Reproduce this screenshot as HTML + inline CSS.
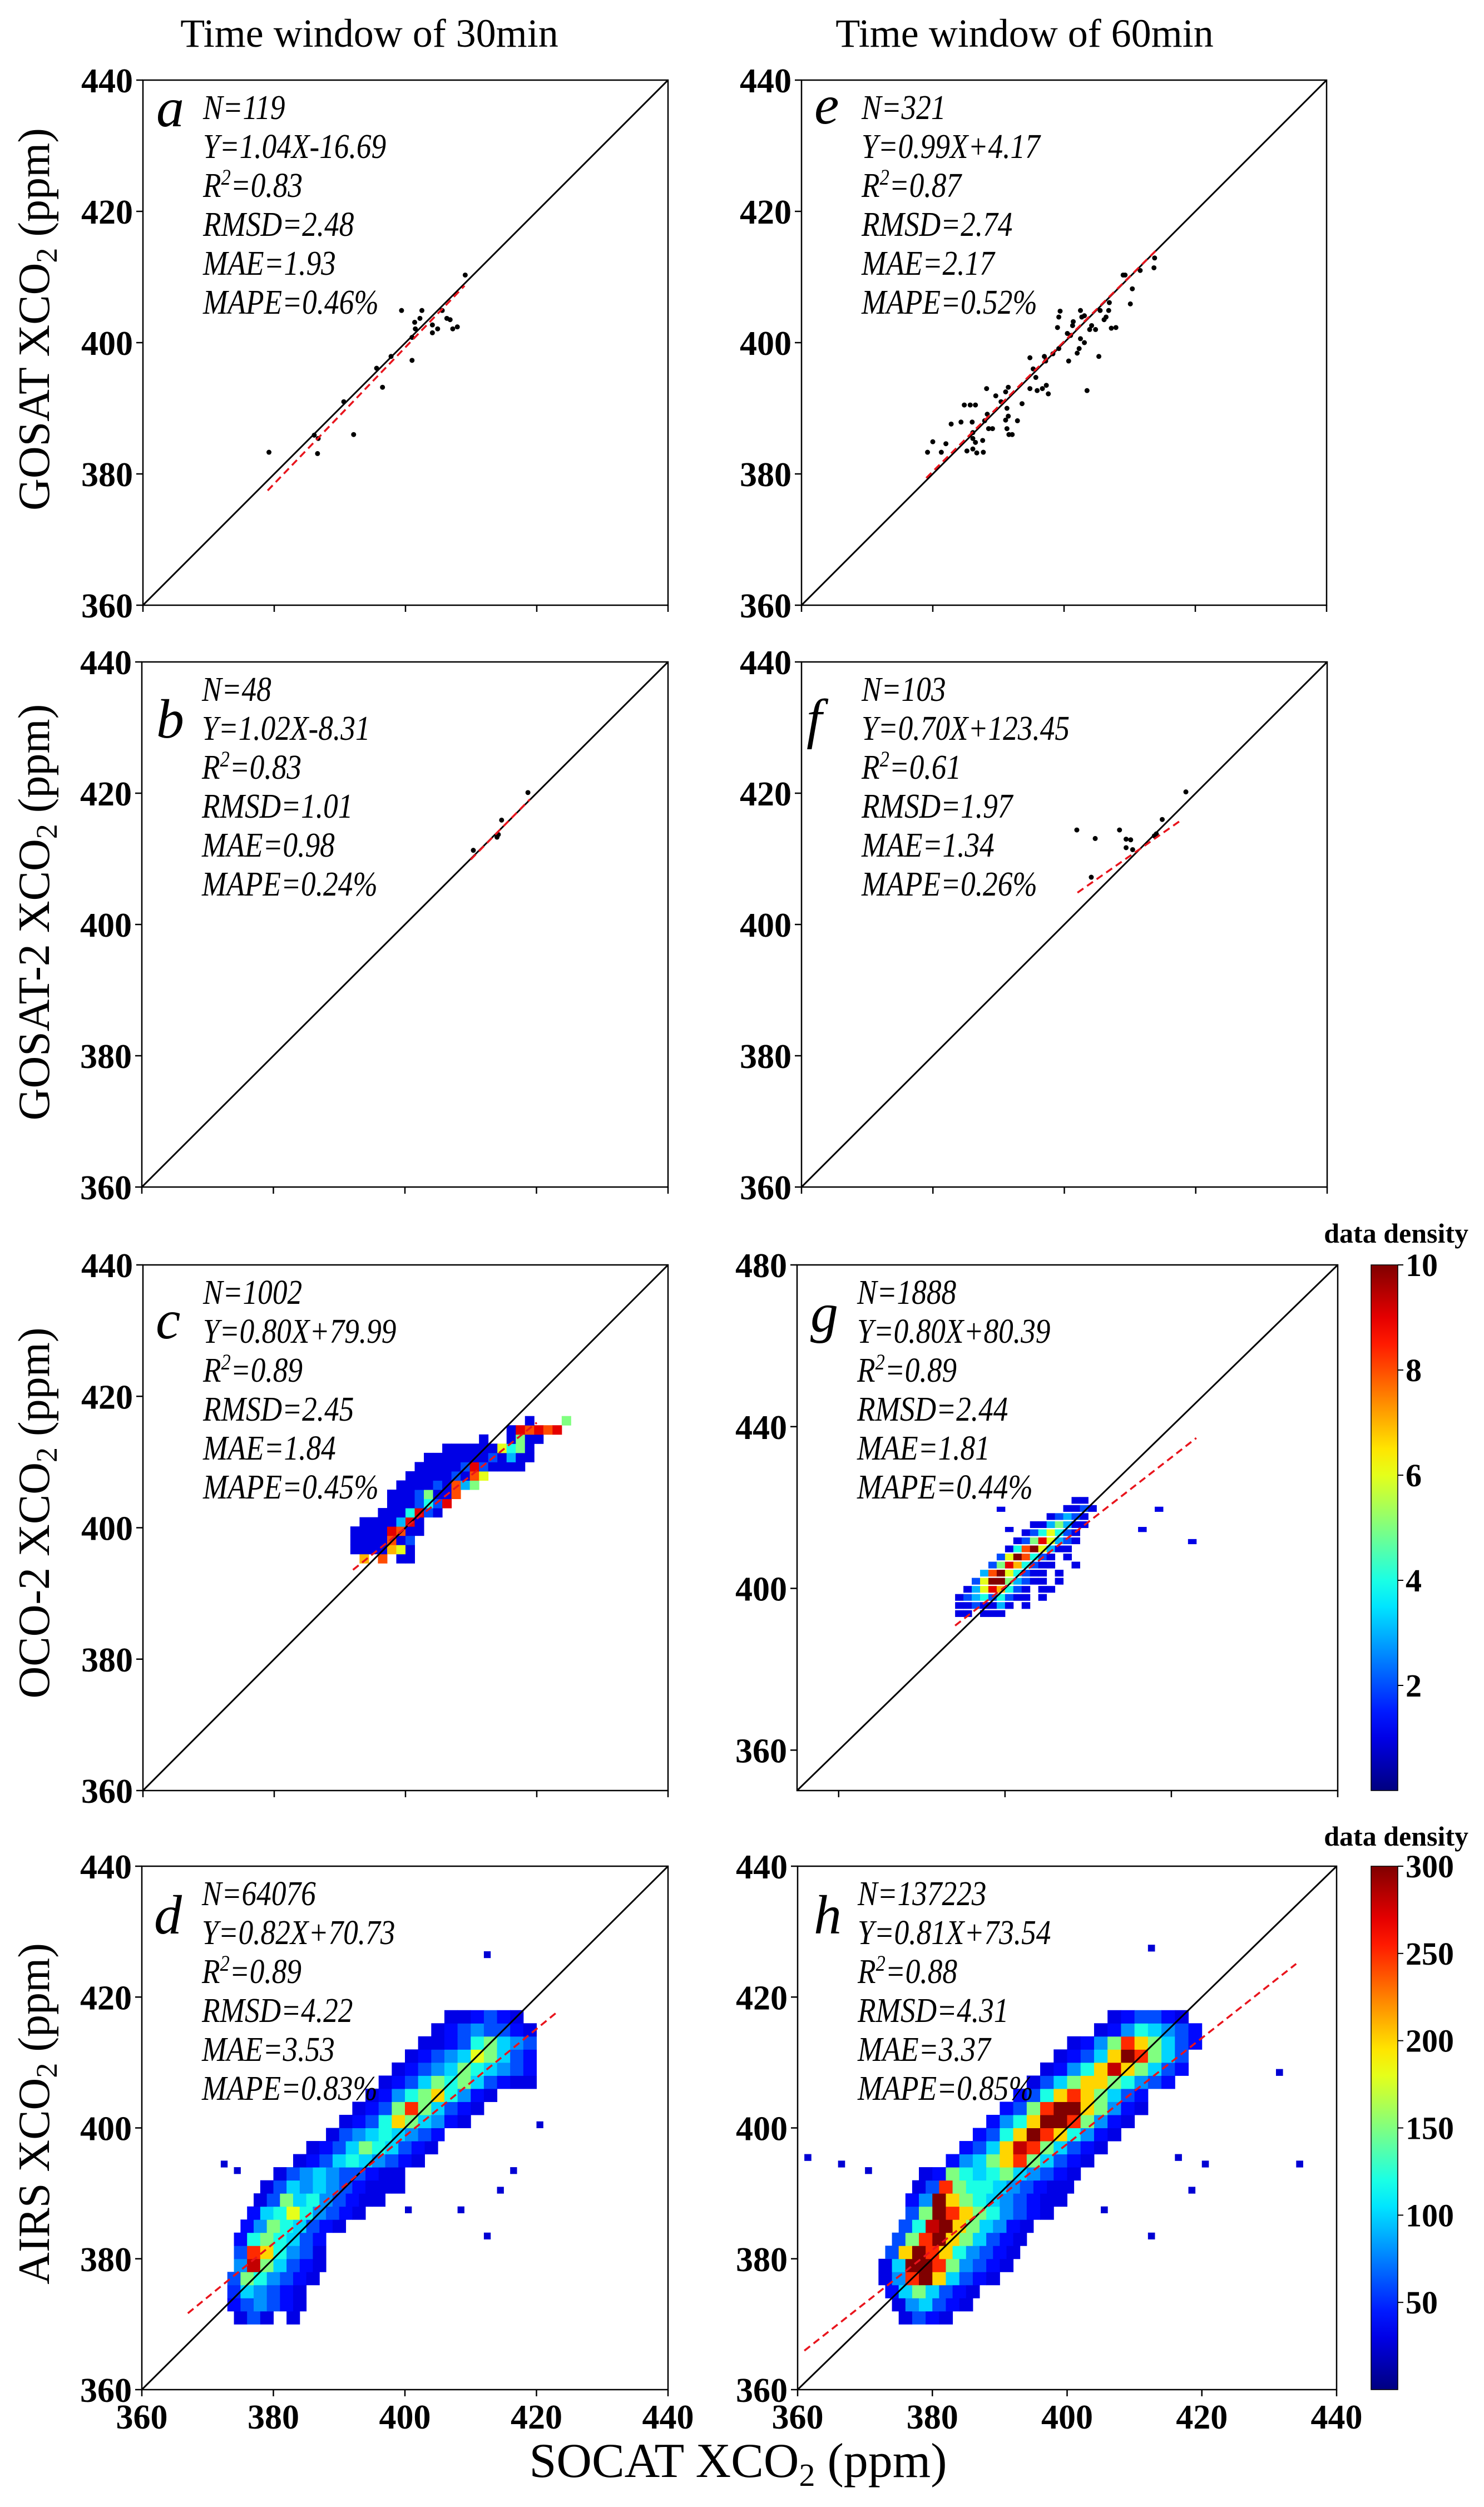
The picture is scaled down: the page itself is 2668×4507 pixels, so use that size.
<!DOCTYPE html>
<html><head><meta charset="utf-8"><title>XCO2 comparison</title>
<style>
html,body{margin:0;padding:0;background:#fff;}
svg{display:block;}
text{font-family:"Liberation Serif","DejaVu Serif",serif;}
</style></head>
<body>
<svg id="fig" xmlns="http://www.w3.org/2000/svg" width="2668" height="4507" viewBox="0 0 2668 4507"></svg>
<script>
// ---------- DATA ----------
const scatterA = [[379.2,383.3],[386.1,385.9],[386.7,385.4],[386.6,383.1],[390.6,391.0],[392.1,386.0],[395.6,396.1],[396.5,393.2],[397.8,397.9],[399.4,404.9],[401.0,397.3],[401.0,400.8],[401.4,403.1],[401.5,402.1],[402.2,403.7],[402.5,404.9],[404.1,401.5],[404.1,402.7],[404.9,402.1],[405.6,404.9],[406.3,403.7],[406.8,403.5],[407.2,402.1],[407.9,402.4],[409.1,410.3]];
const scatterE = [[379.2,383.3],[380.0,384.9],[381.3,383.3],[382.0,384.6],[382.8,387.6],[384.3,387.9],[384.8,390.5],[385.7,390.5],[386.5,390.5],[386.0,387.9],[386.1,386.3],[386.1,385.4],[386.5,384.8],[385.2,383.5],[386.1,383.8],[386.7,383.2],[387.7,383.3],[387.6,385.1],[387.9,388.1],[388.3,389.1],[388.5,386.9],[389.1,386.9],[388.2,393.0],[389.6,391.9],[390.4,391.0],[391.1,392.5],[391.5,393.2],[391.3,390.0],[391.5,388.8],[391.1,388.2],[391.3,386.9],[391.6,386.0],[392.1,386.0],[392.9,388.1],[393.6,390.7],[394.8,397.7],[395.3,396.0],[395.7,394.7],[394.8,393.0],[395.9,392.7],[396.7,393.0],[397.3,393.5],[397.6,392.2],[397.0,397.9],[397.2,397.2],[398.3,398.3],[399.0,402.3],[399.2,403.9],[399.4,404.8],[399.2,399.1],[400.5,401.4],[400.7,397.2],[401.0,401.1],[401.3,402.6],[401.4,403.2],[402.0,398.4],[402.3,399.1],[402.5,404.9],[402.7,403.9],[402.5,400.6],[403.1,404.1],[403.1,400.0],[403.5,392.7],[403.9,402.0],[404.2,402.6],[404.8,402.0],[405.3,397.9],[405.5,404.9],[406.1,403.5],[406.4,403.9],[406.8,404.9],[406.9,406.1],[407.2,402.2],[407.9,402.3],[409.0,410.3],[409.3,410.3],[410.1,405.9],[410.4,408.2],[411.6,411.0],[413.8,412.9],[413.7,411.4]];
const scatterB = [[410.4,411.3],[414.0,413.3],[414.7,415.9],[418.7,420.1],[414.2,413.7]];
const scatterF = [[401.9,414.4],[404.7,413.1],[408.4,414.4],[409.4,413.0],[410.1,412.9],[409.4,411.7],[410.4,411.4],[404.1,407.2],[413.7,413.5],[414.9,416.0],[418.5,420.2],[414.0,413.8]];

const heatC = [
 [0,7,0,8,0,1,1,0],
 [1,1,1,1,7,6,1,0],
 [1,1,1,1,8,1,2,0],
 [1,1,1,1,9,8,1,1,0],
 [0,1,1,1,1,3,9,1,0],
 [0,0,0,1,1,1,4,9,2,1],
 [0,0,0,0,1,1,1,2,4,2,9,0],
 [0,0,0,0,1,1,1,2,5,1,1,8],
 [0,0,0,0,0,1,1,1,1,2,1,8,3,5,0],
 [0,0,0,0,0,0,1,1,1,1,1,2,1,8,6],
 [0,0,0,0,0,0,0,1,1,1,1,1,2,9,2,1,1,1,1],
 [0,0,0,0,0,0,0,0,1,1,1,1,1,1,1,2,1,3,1,1],
 [0,0,0,0,0,0,0,0,0,0,1,1,1,1,1,1,6,4,5,1],
 [0,0,0,0,0,0,0,0,0,0,0,0,0,0,1,0,0,1,5,1,1],
 [0,0,0,0,0,0,0,0,0,0,0,0,0,0,0,0,0,1,9,8,9,8,9],
 [0,0,0,0,0,0,0,0,0,0,0,0,0,0,0,0,0,0,0,1,0,0,0,5]
];
const heatC_x0 = 391.6, heatC_y0 = 394.6, heatC_bin = 1.4;

// g: rows [yStart, xStart, densities...] with 2 ppm bins
const heatG = [
 [393,388,[1,1,0,1,1,1]],
 [395,388,[1,1,2,1,1,3,1,0,1]],
 [397,388,[1,2,3,4,2,4,2,1,1,0,1]],
 [399,390,[1,3,6,9,7,4,2,1,0,1,1]],
 [401,392,[2,6,10,10,5,3,2,1,1,0,1]],
 [403,394,[3,8,10,6,4,2,1,1,0,1]],
 [405,396,[2,5,9,7,4,2,1,1,0,0,1]],
 [407,398,[2,6,10,8,4,2,1,0,1]],
 [409,400,[1,4,8,10,6,3,1,1]],
 [411,402,[1,2,5,9,6,3,2,1]],
 [413,404,[1,2,4,6,4,2,1]],
 [415,406,[1,1,3,5,3,1,1]],
 [417,410,[1,2,3,2,1]],
 [419,414,[1,1,2,1]],
 [421,416,[1,1]]
];
const outG = [[444,411],[436,419],[432,414],[398,419],[400,414]];

const heatD = [
 [370,374,[30,60,30,0,30]],
 [372,373,[40,60,80,60,40,30]],
 [374,373,[50,100,80,60,40,30]],
 [376,373,[60,150,120,80,60,40,30]],
 [378,374,[80,280,150,100,60,40,30]],
 [380,374,[60,250,200,120,80,60,30]],
 [382,374,[40,120,150,120,100,60,40]],
 [384,375,[40,80,150,120,100,60,40,30]],
 [386,376,[40,100,120,180,120,80,60,40,30]],
 [388,377,[30,60,150,100,120,80,60,40,30,30]],
 [390,378,[30,60,100,80,100,80,60,40,30,30,30]],
 [392,380,[30,60,80,100,80,60,60,40,30,30]],
 [394,383,[30,40,60,100,120,100,80,60,40,30]],
 [396,385,[30,40,60,100,150,120,100,60,40,30]],
 [398,388,[30,60,80,100,120,100,80,60,40]],
 [400,390,[30,40,60,120,200,150,100,80,40,30]],
 [402,392,[30,40,60,150,250,150,100,60,40,30]],
 [404,394,[30,40,80,120,150,200,120,80,40,30]],
 [406,396,[30,40,60,100,150,120,150,100,60,40,30,30]],
 [408,398,[30,40,60,80,100,150,120,100,80,60,40]],
 [410,400,[30,40,60,80,100,180,150,100,60,40]],
 [412,402,[30,30,40,60,120,150,100,80,60]],
 [414,404,[30,40,60,80,60,60,40,30]],
 [416,406,[30,30,40,60,40,30]]
];
const outD = [[372,394],[374,393],[412,426],[420,400],[416,393],[414,390],[412,383],[408,387],[400,387]];
const heatH = [
 [370,375,[30,60,40,30]],
 [372,374,[30,80,100,60,40,30]],
 [374,373,[40,100,150,100,60,40,30]],
 [376,372,[30,80,250,300,200,100,60,40,30]],
 [378,372,[30,100,300,300,250,150,80,60,40,30]],
 [380,373,[60,200,300,250,200,120,80,60,40,30]],
 [382,374,[60,150,250,300,200,150,100,60,40,30]],
 [384,375,[60,120,280,300,200,150,100,80,40,30]],
 [386,376,[60,150,300,250,200,150,120,80,60,40,30]],
 [388,376,[40,80,300,200,150,120,100,80,60,40,30,30]],
 [390,377,[30,60,250,150,120,120,100,80,60,40,30,30]],
 [392,378,[30,40,150,120,100,120,150,100,80,60,40,30]],
 [394,382,[40,80,100,150,200,250,150,100,60,40,30]],
 [396,384,[40,60,100,200,280,250,150,100,60,40,30]],
 [398,386,[40,60,120,200,300,250,200,120,80,40,30]],
 [400,388,[40,80,120,200,300,300,250,150,80,40,30]],
 [402,390,[40,60,150,250,300,300,200,150,80,40,30]],
 [404,392,[40,60,120,200,250,200,150,100,60,40]],
 [406,394,[30,60,100,150,200,200,150,120,80,60,40]],
 [408,396,[30,40,80,120,200,280,200,150,100,60,40]],
 [410,398,[30,40,60,100,200,300,250,150,100,60]],
 [412,400,[30,40,80,150,250,200,150,100,60,40]],
 [414,404,[30,40,80,120,100,80,60,40]],
 [416,406,[30,40,60,60,40,30]]
];
const outH = [[361,395],[366,394],[370,393],[412,427],[431,408],[434,394],[416,395],[420,394],[412,383],[418,390],[405,387]];

const ticks80 = [360,380,400,420,440];
const ticksG = [360,400,440,480];
const cbSmallTicks = [2,4,6,8,10];
const cbLargeTicks = [50,100,150,200,250,300];

const statsA = ["N=119","Y=1.04X-16.69","R2=0.83","RMSD=2.48","MAE=1.93","MAPE=0.46%"];
const statsB = ["N=48","Y=1.02X-8.31","R2=0.83","RMSD=1.01","MAE=0.98","MAPE=0.24%"];
const statsC = ["N=1002","Y=0.80X+79.99","R2=0.89","RMSD=2.45","MAE=1.84","MAPE=0.45%"];
const statsD = ["N=64076","Y=0.82X+70.73","R2=0.89","RMSD=4.22","MAE=3.53","MAPE=0.83%"];
const statsE = ["N=321","Y=0.99X+4.17","R2=0.87","RMSD=2.74","MAE=2.17","MAPE=0.52%"];
const statsF = ["N=103","Y=0.70X+123.45","R2=0.61","RMSD=1.97","MAE=1.34","MAPE=0.26%"];
const statsG = ["N=1888","Y=0.80X+80.39","R2=0.89","RMSD=2.44","MAE=1.81","MAPE=0.44%"];
const statsH = ["N=137223","Y=0.81X+73.54","R2=0.88","RMSD=4.31","MAE=3.37","MAPE=0.85%"];

const fitA=[1.04,-16.69,379,409], fitB=[1.02,-8.31,410,419], fitC=[0.80,79.99,392,420], fitD=[0.82,70.73,367,423];
const fitE=[0.99,4.17,379,414], fitF=[0.70,123.45,402,418], fitG=[0.80,80.39,388,446], fitH=[0.81,73.54,361,434];

// ---------- DRAW ----------
const NS="http://www.w3.org/2000/svg";
const svg=document.getElementById('fig');
function mk(tag,attrs,parent){const e=document.createElementNS(NS,tag);for(const k in attrs)e.setAttribute(k,attrs[k]);(parent||svg).appendChild(e);return e;}
function jet(t){t=Math.max(0,Math.min(1,t));const c=v=>Math.round(255*Math.max(0,Math.min(1,v)));
 return `rgb(${c(1.5-Math.abs(4*t-3))},${c(1.5-Math.abs(4*t-2))},${c(1.5-Math.abs(4*t-1))})`;}

const panels=[
 {id:'a',L:257,R:1201,T:144,B:1088,min:360,max:440,ticks:ticks80,stats:statsA,fit:fitA,pts:scatterA,lx:281,lb:227,xl:false},
 {id:'e',L:1441,R:2385,T:144,B:1088,min:360,max:440,ticks:ticks80,stats:statsE,fit:fitE,pts:scatterE,lx:1464,lb:222,xl:false},
 {id:'b',L:255,R:1201,T:1190,B:2134,min:360,max:440,ticks:ticks80,stats:statsB,fit:fitB,pts:scatterB,lx:281,lb:1326,xl:false},
 {id:'f',L:1441,R:2386,T:1190,B:2134,min:360,max:440,ticks:ticks80,stats:statsF,fit:fitF,pts:scatterF,lx:1450,lb:1326,xl:false},
 {id:'c',L:257,R:1201,T:2274,B:3219,min:360,max:440,ticks:ticks80,stats:statsC,fit:fitC,lx:280,lb:2406,xl:false},
 {id:'g',L:1433,R:2405,T:2274,B:3219,min:350,max:480,ticks:ticksG,stats:statsG,fit:fitG,lx:1457,lb:2394,xl:false},
 {id:'d',L:255,R:1201,T:3355,B:4296,min:360,max:440,ticks:ticks80,stats:statsD,fit:fitD,lx:277,lb:3476,xl:true},
 {id:'h',L:1434,R:2403,T:3355,B:4296,min:360,max:440,ticks:ticks80,stats:statsH,fit:fitH,lx:1463,lb:3476,xl:true}
];

function drawPanel(p){
 const g=mk('g',{});
 
 
 const sx=v=>p.L+(v-p.min)/(p.max-p.min)*(p.R-p.L);
 const sy=v=>p.B-(v-p.min)/(p.max-p.min)*(p.B-p.T);
 const clip=mk('clipPath',{id:'clip-'+p.id},g);
 mk('rect',{x:p.L,y:p.T,width:p.R-p.L,height:p.B-p.T},clip);
 const plot=mk('g',{'clip-path':'url(#clip-'+p.id+')'},g);
 
 
 function cell(x0,y0,w,h,v,vmax){
  const r=mk('rect',{x:sx(x0),y:sy(y0+h),width:sx(x0+w)-sx(x0)+0.5,height:sy(y0)-sy(y0+h)+0.5,fill:jet(v/vmax)},plot);
  
  
 }
 if(p.id==='c'){
  heatC.forEach((row,j)=>row.forEach((v,i)=>{if(v>0)cell(heatC_x0+i*heatC_bin,heatC_y0+j*heatC_bin,heatC_bin,heatC_bin,v,10);}));
 }
 if(p.id==='g'){
  heatG.forEach(r=>r[2].forEach((v,i)=>{if(v>0)cell(r[1]+2*i,r[0],2,1.6,v,10);}));
  outG.forEach(o=>cell(o[0],o[1],2,1.2,1,10));
 }
 if(p.id==='d'||p.id==='h'){
  const rows=p.id==='d'?heatD:heatH, outs=p.id==='d'?outD:outH;
  rows.forEach(r=>r[2].forEach((v,i)=>{if(v>0)cell(r[1]+2*i,r[0],2,2,v,300);}));
  outs.forEach(o=>cell(o[0],o[1],1,1,25,300));
 }
 const dl=mk('line',{x1:sx(p.min),y1:sy(p.min),x2:sx(p.max),y2:sy(p.max),stroke:'#000','stroke-width':3},plot);
 
 
 if(p.pts){p.pts.forEach(pt=>{
  const c=mk('circle',{cx:sx(pt[0]),cy:sy(pt[1]),r:4.5,fill:'#000'},plot);
  
  
 });}
 const f=p.fit;
 const fl=mk('line',{x1:sx(f[2]),y1:sy(f[0]*f[2]+f[1]),x2:sx(f[3]),y2:sy(f[0]*f[3]+f[1]),stroke:'#e8141c','stroke-width':3.5,'stroke-dasharray':'13 8'},plot);
 
 
 const fr=mk('rect',{x:p.L,y:p.T,width:p.R-p.L,height:p.B-p.T,fill:'none',stroke:'#000','stroke-width':2.5},g);
 
 
 p.ticks.forEach(t=>{
  mk('line',{x1:p.L-12,y1:sy(t),x2:p.L,y2:sy(t),stroke:'#000','stroke-width':2.5},g);
  mk('line',{x1:sx(t),y1:p.B,x2:sx(t),y2:p.B+12,stroke:'#000','stroke-width':2.5},g);
  const yl=mk('text',{x:p.L-18,y:sy(t)+22,'text-anchor':'end','font-size':62,'font-weight':'bold'},g);
  yl.textContent=t;
  
  
  if(p.xl){
   const xl=mk('text',{x:sx(t),y:p.B+70,'text-anchor':'middle','font-size':62,'font-weight':'bold'},g);
   xl.textContent=t;
   
   
  }
 });
 const lt=mk('text',{x:p.lx,y:p.lb,'font-size':100,'font-style':'italic'},g);
 lt.textContent=p.id;
 
 
 const sxp=p.L+108;
 p.stats.forEach((s,i)=>{
  const t=mk('text',{x:sxp,y:p.T+70+70*i,'font-size':62,'font-style':'italic',transform:`translate(${sxp},0) scale(0.86,1) translate(${-sxp},0)`},g);
  
  
  if(s.startsWith('R2')){
   const a=mk('tspan',{},t);a.textContent='R';
   const b=mk('tspan',{dy:-22,'font-size':40},t);b.textContent='2';
   const c=mk('tspan',{dy:22},t);c.textContent=s.slice(2);
  } else t.textContent=s;
 });
}
panels.forEach(drawPanel);

[['Time window of  30min',664],['Time window of  60min',1842]].forEach(c=>{
 const t=mk('text',{x:c[1],y:84,'text-anchor':'middle','font-size':72,'xml:space':'preserve'});
 t.textContent=c[0];
 
 
});
[['GOSAT  XCO',574],['GOSAT-2  XCO',1640],['OCO-2  XCO',2720],['AIRS  XCO',3800]].forEach(r=>{
 const t=mk('text',{x:0,y:0,'text-anchor':'middle','font-size':80,'xml:space':'preserve',transform:`translate(88,${r[1]}) rotate(-90)`});
 
 
 const a=mk('tspan',{},t);a.textContent=r[0];
 const b=mk('tspan',{dy:14,'font-size':54},t);b.textContent='2';
 const c=mk('tspan',{dy:-14},t);c.textContent=' (ppm)';
});
{
 const t=mk('text',{x:1327,y:4453,'text-anchor':'middle','font-size':88,'xml:space':'preserve'});
 
 
 const a=mk('tspan',{},t);a.textContent='SOCAT  XCO';
 const b=mk('tspan',{dy:16,'font-size':58},t);b.textContent='2';
 const c=mk('tspan',{dy:-16},t);c.textContent=' (ppm)';
}
function colorbar(top,bot,vmax,ticks,name,titleY){
 const g=mk('g',{});
 
 
 const L=2465,W=48;
 const defs=mk('defs',{},g);
 const gr=mk('linearGradient',{id:name+'-grad',x1:0,y1:1,x2:0,y2:0},defs);
 for(let i=0;i<=20;i++)mk('stop',{offset:i/20,'stop-color':jet(i/20)},gr);
 mk('rect',{x:L,y:top,width:W,height:bot-top,fill:`url(#${name}-grad)`,stroke:'#000','stroke-width':1.5},g);
 ticks.forEach(t=>{
  const y=bot-(t/vmax)*(bot-top);
  mk('line',{x1:L+W,y1:y,x2:L+W+10,y2:y,stroke:'#000','stroke-width':2},g);
  const tx=mk('text',{x:L+W+14,y:y+20,'font-size':58,'font-weight':'bold'},g);
  tx.textContent=t;
  
  
 });
 const tt=mk('text',{x:2640,y:titleY,'text-anchor':'end','font-size':50,'font-weight':'bold'},g);
 tt.textContent='data density';
 
 
}
colorbar(2274,3219,10,cbSmallTicks,'colorbar-small',2234);
colorbar(3355,4296,300,cbLargeTicks,'colorbar-large',3318);
</script>
</body></html>
